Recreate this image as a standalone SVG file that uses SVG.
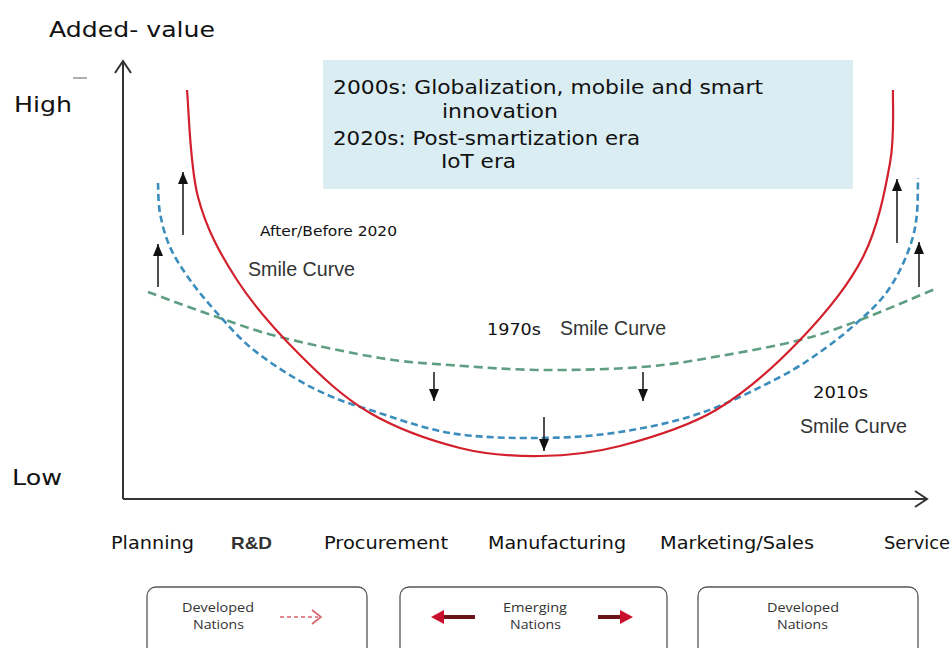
<svg xmlns="http://www.w3.org/2000/svg" width="952" height="648" viewBox="0 0 952 648">
<style>
.lbl{font-family:"DejaVu Sans","Noto Sans",sans-serif;fill:#111}
.big{font-size:22px}
.box{font-size:19.5px}
.x{font-size:17.5px}
.yr{font-size:15.5px}
.sc{font-family:"Liberation Sans",Arial,sans-serif;font-size:19.5px;fill:#333}
.nat{font-family:"Open Sans","Noto Sans",sans-serif;font-size:12.5px;fill:#333}
.axis{fill:none;stroke:#333;stroke-width:2}
.red{fill:none;stroke:#d2202c;stroke-width:2.2}
.blue{fill:none;stroke:#3a8dbd;stroke-width:2.6;stroke-dasharray:7 4}
.green{fill:none;stroke:#5f9e82;stroke-width:2.6;stroke-dasharray:9 5}
.arr{fill:none;stroke:#222;stroke-width:1.6;marker-end:url(#tri)}
.nbox{fill:#fff;stroke:#555;stroke-width:1.3}
</style>
<defs>
<marker id="tri" viewBox="0 0 12 10" refX="12" refY="5" markerWidth="12" markerHeight="10" markerUnits="userSpaceOnUse" orient="auto">
<path d="M0,0 L12,5 L0,10 z" fill="#111"/>
</marker>
</defs>
<rect width="952" height="648" fill="#fff"/>

<g id="axes">
<line class="axis" x1="123" y1="499" x2="123" y2="61"/>
<polyline class="axis" points="115,73 123,61 131,73"/>
<line class="axis" x1="123" y1="499" x2="927" y2="499"/>
<polyline class="axis" points="915,491 927,499 915,507"/>
<line x1="73" y1="78" x2="87" y2="78" stroke="#777" stroke-width="1.2"/>
</g>

<g id="info-box">
<rect x="323" y="60" width="530" height="129" fill="#daedf2"/>
<text class="lbl box" x="333" y="94" textLength="430" lengthAdjust="spacingAndGlyphs">2000s: Globalization, mobile and smart</text>
<text class="lbl box" x="442" y="118" textLength="116" lengthAdjust="spacingAndGlyphs">innovation</text>
<text class="lbl box" x="333" y="145" textLength="307" lengthAdjust="spacingAndGlyphs">2020s: Post-smartization era</text>
<text class="lbl box" x="441" y="168" textLength="75" lengthAdjust="spacingAndGlyphs">IoT era</text>
</g>

<g id="curve-1970s">
<path class="green" d="M148,292 C159.5,296.2 195,309.5 217,317 C239,324.5 252.8,330.2 280,337 C307.2,343.8 351.7,353.3 380,358 C408.3,362.7 423.2,363 450,365 C476.8,367 509,369.7 541,370 C573,370.3 612.2,369.3 642,367 C671.8,364.7 693.7,360.5 720,356 C746.3,351.5 776.7,346 800,340 C823.3,334 837.5,328.5 860,320 C882.5,311.5 922.5,294.2 935,289"/>
</g>
<g id="curve-2010s">
<path class="blue" d="M158,183 C158.3,188 158,202.3 160,213 C162,223.7 165,235.8 170,247 C175,258.2 182.2,269 190,280 C197.8,291 207,301.8 217,313 C227,324.2 237.3,336.3 250,347 C262.7,357.7 279.7,369 293,377 C306.3,385 317.2,390.5 330,396 C342.8,401.5 350,403.8 370,410 C390,416.2 421.7,428.3 450,433 C478.3,437.7 511.7,438.2 540,438 C568.3,437.8 593.2,436.2 620,432 C646.8,427.8 674.3,422.2 701,413 C727.7,403.8 759,388 780,377 C801,366 813.7,356.5 827,347 C840.3,337.5 850.7,328.3 860,320 C869.3,311.7 876.3,305.3 883,297 C889.7,288.7 895.2,279.5 900,270 C904.8,260.5 909.2,249.5 912,240 C914.8,230.5 916,223.3 917,213 C918,202.7 917.8,183.8 918,178"/>
</g>
<g id="curve-2020">
<path class="red" d="M187,90 C188.8,107.8 189.7,165.3 198,197 C206.3,228.7 220,253.7 237,280 C254,306.3 277.8,332.8 300,355 C322.2,377.2 343.3,397.5 370,413 C396.7,428.5 431.7,440.8 460,448 C488.3,455.2 513.3,456.3 540,456 C566.7,455.7 590.7,453.7 620,446 C649.3,438.3 686,427.7 716,410 C746,392.3 775.5,365.5 800,340 C824.5,314.5 848,286.5 863,257 C878,227.5 885,190.8 890,163 C895,135.2 892.5,102.2 893,90"/>
</g>

<g id="shift-arrows">
<line class="arr" x1="183" y1="235" x2="183" y2="172"/>
<line class="arr" x1="158" y1="287" x2="158" y2="244"/>
<line class="arr" x1="897" y1="243" x2="897" y2="179"/>
<line class="arr" x1="919" y1="287" x2="919" y2="242"/>
<line class="arr" x1="434" y1="372" x2="434" y2="401"/>
<line class="arr" x1="643" y1="372" x2="643" y2="401"/>
<line class="arr" x1="544" y1="417" x2="544" y2="451"/>
</g>

<g id="labels">
<text class="lbl big" x="49" y="37" textLength="166" lengthAdjust="spacingAndGlyphs">Added- value</text>
<text class="lbl big" x="14" y="112" textLength="58" lengthAdjust="spacingAndGlyphs">High</text>
<text class="lbl big" x="12" y="485" textLength="50" lengthAdjust="spacingAndGlyphs">Low</text>
<text class="lbl" x="260" y="236" font-size="14" textLength="137" lengthAdjust="spacingAndGlyphs">After/Before 2020</text>
<text class="sc" x="248" y="276" textLength="107" lengthAdjust="spacingAndGlyphs">Smile Curve</text>
<text class="lbl yr" x="487" y="335" textLength="54" lengthAdjust="spacingAndGlyphs">1970s</text>
<text class="sc" x="560" y="335" textLength="106" lengthAdjust="spacingAndGlyphs">Smile Curve</text>
<text class="lbl yr" x="813" y="398" textLength="55" lengthAdjust="spacingAndGlyphs">2010s</text>
<text class="sc" x="800" y="433" textLength="107" lengthAdjust="spacingAndGlyphs">Smile Curve</text>
</g>

<g id="value-chain">
<text class="lbl x" x="111" y="549" textLength="83" lengthAdjust="spacingAndGlyphs">Planning</text>
<text x="231" y="549" font-family="Liberation Sans, Arial, sans-serif" font-weight="bold" font-size="17" fill="#333" textLength="41" lengthAdjust="spacingAndGlyphs">R&amp;D</text>
<text class="lbl x" x="324" y="549" textLength="124" lengthAdjust="spacingAndGlyphs">Procurement</text>
<text class="lbl x" x="488" y="549" textLength="138" lengthAdjust="spacingAndGlyphs">Manufacturing</text>
<text class="lbl x" x="660" y="549" textLength="154" lengthAdjust="spacingAndGlyphs">Marketing/Sales</text>
<text class="lbl x" x="884" y="549" textLength="66" lengthAdjust="spacingAndGlyphs">Service</text>
</g>

<g id="box-developed-left">
<rect class="nbox" x="147" y="587" width="220" height="75" rx="9"/>
<text class="nat" x="182" y="612" textLength="72" lengthAdjust="spacingAndGlyphs">Developed</text>
<text class="nat" x="193" y="629" textLength="51" lengthAdjust="spacingAndGlyphs">Nations</text>
<line x1="280" y1="617" x2="318" y2="617" stroke="#d6646c" stroke-width="1.6" stroke-dasharray="4 3"/>
<polyline points="312,610 321,617 312,624" fill="none" stroke="#d6646c" stroke-width="1.6"/>
</g>

<g id="box-emerging">
<rect class="nbox" x="400" y="587" width="267" height="75" rx="9"/>
<text class="nat" x="503" y="612" textLength="64" lengthAdjust="spacingAndGlyphs">Emerging</text>
<text class="nat" x="510" y="629" textLength="51" lengthAdjust="spacingAndGlyphs">Nations</text>
<line x1="475" y1="617" x2="442" y2="617" stroke="#6a1418" stroke-width="4"/>
<polygon points="431,617 444,610 444,624" fill="#c8102e"/>
<line x1="598" y1="617" x2="621" y2="617" stroke="#6a1418" stroke-width="4"/>
<polygon points="633,617 620,610 620,624" fill="#c8102e"/>
</g>

<g id="box-developed-right">
<rect class="nbox" x="698" y="587" width="220" height="75" rx="9"/>
<text class="nat" x="767" y="612" textLength="72" lengthAdjust="spacingAndGlyphs">Developed</text>
<text class="nat" x="777" y="629" textLength="51" lengthAdjust="spacingAndGlyphs">Nations</text>
</g>
</svg>
